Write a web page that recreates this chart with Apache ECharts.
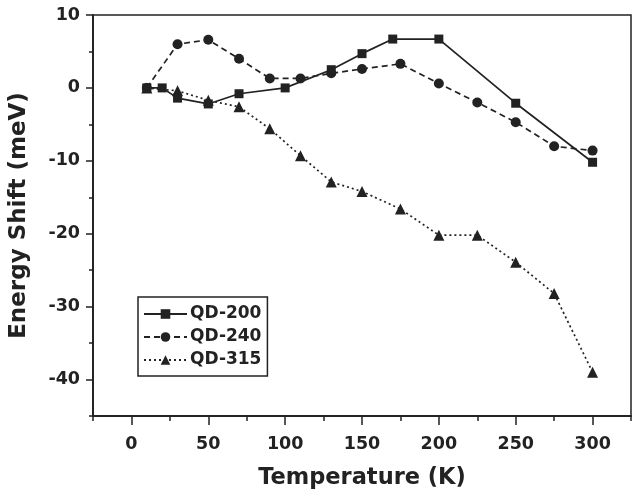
<!DOCTYPE html>
<html>
<head>
<meta charset="utf-8">
<script src="https://cdn.jsdelivr.net/npm/echarts@6/dist/echarts.min.js"></script>
<style>
  html, body { margin: 0; padding: 0; background: #fff; }
  #chart { width: 633px; height: 496px; }
</style>
</head>
<body>
<div id="chart"></div>
<script>
// temperature (K) / energy shift (meV)
const qd200T = [10, 20, 30, 50, 70, 100, 130, 150, 170, 200, 250, 300]
const qd200E = [0, 0, -1.4, -2.2, -0.8, 0, 2.5, 4.7, 6.7, 6.7, -2.1, -10.2]

const qd240T = [10, 30, 50, 70, 90, 110, 130, 150, 175, 200, 225, 250, 275, 300]
const qd240E = [0, 6.0, 6.6, 4.0, 1.3, 1.3, 2.0, 2.6, 3.3, 0.6, -2.0, -4.7, -8.0, -8.6]

const qd315T = [10, 30, 50, 70, 90, 110, 130, 150, 175, 200, 225, 250, 275, 300]
const qd315E = [0, -0.4, -1.7, -2.6, -5.6, -9.3, -12.9, -14.2, -16.6, -20.2, -20.2, -23.9, -28.2, -39.0]

const xMajorTicks = [0, 50, 100, 150, 200, 250, 300]
const xMinorTicks = [-25, 25, 75, 125, 175, 225, 275, 325]
const yMajorTicks = [-40, -30, -20, -10, 0, 10]
const yMinorTicks = [-45, -35, -25, -15, -5, 5]

const INK = '#222'
const FONT = 'DejaVu Sans'

const zip = (xs, ys) => xs.map((x, i) => [x, ys[i]])

const chart = echarts.init(document.getElementById('chart'))

// axis lines stay on the frame, not at zero
const baseX = {
  type: 'value',
  min: -25,
  max: 325,
  position: 'bottom',
  splitLine: { show: false },
  axisLine: { onZero: false, lineStyle: { color: INK, width: 1.5 } }
}
const baseY = {
  type: 'value',
  min: -45,
  max: 10,
  position: 'left',
  splitLine: { show: false },
  axisLine: { onZero: false, lineStyle: { color: INK, width: 1.5 } }
}

const option = {
  backgroundColor: '#fff',
  animation: false,
  grid: {
    left: 92, right: 2, top: 15, bottom: 80,
    show: true, borderColor: INK, borderWidth: 1.5
  },
  legend: {
    left: 138, top: 297,
    orient: 'vertical',
    borderColor: INK, borderWidth: 1.5,
    padding: [7, 6, 6, 5],
    itemWidth: 43, itemHeight: 12, itemGap: 3,
    textStyle: { fontFamily: FONT, fontWeight: 'bold', fontSize: 17, color: INK, lineHeight: 20, padding: [0, 0, 0, -2] },
    data: ['QD-200', 'QD-240', 'QD-315']
  },
  xAxis: [
    {
      ...baseX,
      name: 'Temperature (K)',
      nameLocation: 'middle',
      nameGap: 51,
      nameTextStyle: { fontFamily: FONT, fontWeight: 'bold', fontSize: 22.5, color: INK },
      axisTick: { customValues: xMajorTicks, length: 9, lineStyle: { color: INK, width: 1.5 } },
      axisLabel: { customValues: xMajorTicks, margin: 19, fontFamily: FONT, fontWeight: 'bold', fontSize: 17.5, color: INK }
    },
    {
      ...baseX,
      axisTick: { customValues: xMinorTicks, length: 5, lineStyle: { color: INK, width: 1.5 } },
      axisLabel: { show: false }
    }
  ],
  yAxis: [
    {
      ...baseY,
      name: 'Energy Shift (meV)',
      nameLocation: 'middle',
      nameGap: 62,
      nameTextStyle: { fontFamily: FONT, fontWeight: 'bold', fontSize: 23, color: INK },
      axisTick: { customValues: yMajorTicks, length: 7, lineStyle: { color: INK, width: 1.5 } },
      axisLabel: { customValues: yMajorTicks, margin: 13, fontFamily: FONT, fontWeight: 'bold', fontSize: 17.5, color: INK }
    },
    {
      ...baseY,
      axisTick: { customValues: yMinorTicks, length: 4, lineStyle: { color: INK, width: 1.5 } },
      axisLabel: { show: false }
    }
  ],
  series: [
    {
      name: 'QD-315',
      type: 'line',
      symbol: 'triangle',
      symbolSize: 11,
      itemStyle: { color: INK },
      lineStyle: { color: INK, width: 1.7, type: [2, 3] },
      data: zip(qd315T, qd315E)
    },
    {
      name: 'QD-240',
      type: 'line',
      symbol: 'circle',
      symbolSize: 10,
      itemStyle: { color: INK },
      lineStyle: { color: INK, width: 1.7, type: [6, 4] },
      data: zip(qd240T, qd240E)
    },
    {
      name: 'QD-200',
      type: 'line',
      symbol: 'rect',
      symbolSize: 9,
      itemStyle: { color: INK },
      lineStyle: { color: INK, width: 1.7 },
      data: zip(qd200T, qd200E)
    }
  ]
}

chart.setOption(option)
</script>
</body>
</html>
